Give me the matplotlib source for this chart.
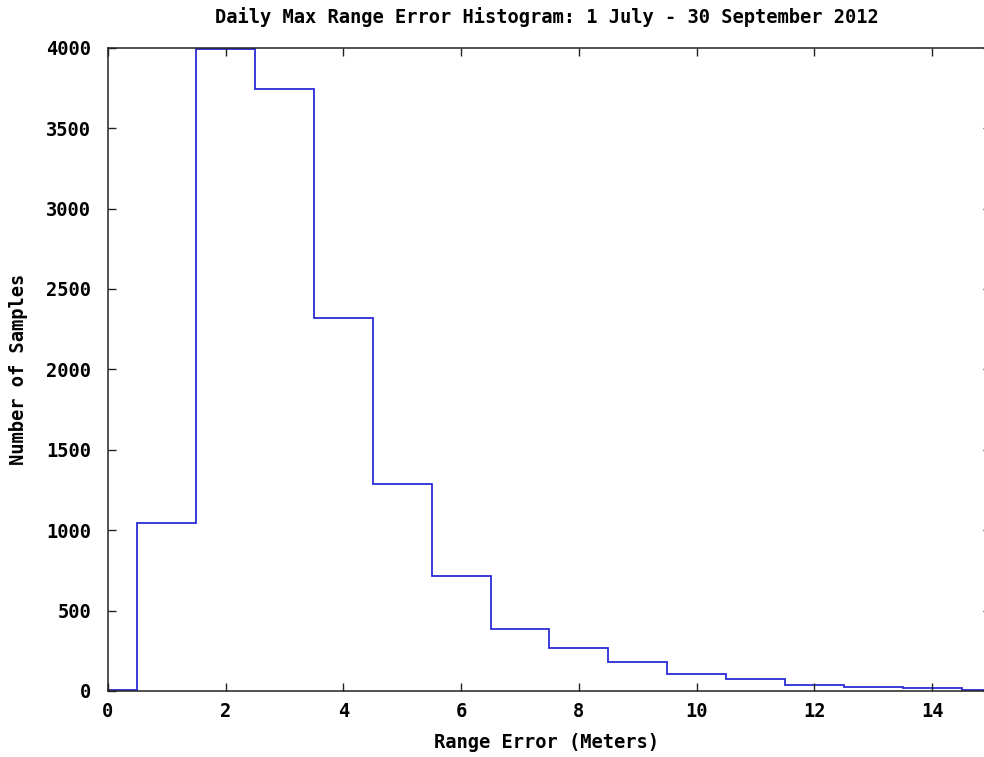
import matplotlib
matplotlib.use("Agg")
import matplotlib.pyplot as plt
import numpy as np

# histogram of daily max range error, 1 m bins centred on integers
bin_centers = np.arange(0, 16)
counts = [5, 1043, 3992, 3743, 2317, 1285, 715, 386, 265, 180, 106, 75, 37, 27, 17, 8]

title = "Daily Max Range Error Histogram: 1 July - 30 September 2012"
xlabel = "Range Error (Meters)"
ylabel = "Number of Samples"
xticks = [0, 2, 4, 6, 8, 10, 12, 14]
yticks = [0, 500, 1000, 1500, 2000, 2500, 3000, 3500, 4000]

FONT = "DejaVu Sans Mono"
FS = 13.5
txt = dict(fontfamily=FONT, fontweight="bold", fontsize=FS)

fig = plt.figure(figsize=(9.84, 7.57), dpi=100)
ax = fig.add_axes([0.1095, 0.0872, 0.8977, 0.8498])

edges = np.append(bin_centers - 0.5, bin_centers[-1] + 0.5)
ax.stairs(counts, edges, baseline=None, color="#2b2bd6", linewidth=1.3)

ax.set_xlim(0, 15)
ax.set_ylim(0, 4000)
ax.set_xticks(xticks)
ax.set_yticks(yticks)
ax.set_xticklabels([str(t) for t in xticks], **txt)
ax.set_yticklabels([str(t) for t in yticks], **txt)
ax.tick_params(direction="in", length=6, width=1, top=True, right=True, color="#222222")
ax.tick_params(axis="y", pad=12)
ax.tick_params(axis="x", pad=8)

for s in ax.spines.values():
    s.set_linewidth(1.1)
    s.set_color("#222222")

# gnuplot-style labels placed in figure coordinates
fig.text(0.5554, 0.0185, xlabel, ha="center", va="center", **txt)
fig.text(0.0193, 0.512, ylabel, ha="center", va="center", rotation=90, **txt)
fig.text(0.556, 0.9775, title, ha="center", va="center", **txt)

fig.savefig("out.png", dpi=100)
